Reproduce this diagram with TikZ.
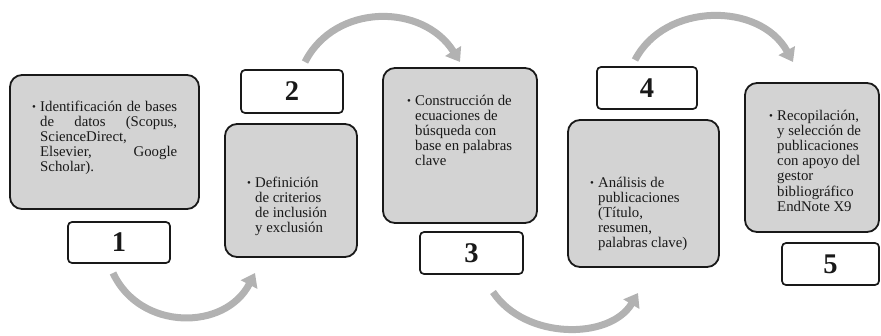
\documentclass[tikz,border=0pt]{standalone}
\usepackage{fontspec}
\setmainfont{Liberation Serif}
\usetikzlibrary{arrows.meta}
\definecolor{boxgray}{RGB}{211,211,211}
\definecolor{arrgray}{RGB}{178,178,178}
\definecolor{inkc}{RGB}{25,25,25}
\newcommand{\bul}{\makebox[8pt][l]{\raisebox{0.3pt}{\fontsize{11}{11}\selectfont\textbullet}}}
\newcommand{\ind}{\hspace*{8pt}}
\begin{document}
\begin{tikzpicture}[x=1pt,y=-1pt,
  graybox/.style={draw=inkc, line width=1.8pt, fill=boxgray, rounded corners=12pt, inner sep=0pt},
  numbox/.style={draw=inkc, line width=1.7pt, fill=white, rounded corners=4pt, inner sep=0pt,
    font=\fontsize{28.5}{28.5}\selectfont\bfseries, text=inkc},
  txt/.style={anchor=base west, inner sep=0pt, text=inkc, font=\fontsize{14.8}{15.2}\selectfont},
  arr/.style={draw=arrgray, line width=7pt, -{Triangle[width=18pt,length=13pt]}}]
\path[use as bounding box] (0,0) rectangle (881,335);

% gray boxes
\node (b1) [graybox, minimum width=189pt, minimum height=134pt] at (104.5,142) {};
\node (b2) [graybox, minimum width=132pt, minimum height=133pt] at (291,190.5) {};
\node (b3) [graybox, minimum width=154pt, minimum height=155pt] at (460,145.5) {};
\node (b4) [graybox, minimum width=151pt, minimum height=147pt] at (643.5,193.5) {};
\node (b5) [graybox, minimum width=134pt, minimum height=149pt] at (812,157.5) {};

% number boxes
\node (n1) [numbox, minimum width=102pt, minimum height=41pt] at (119,242.5) {1};
\node (n2) [numbox, minimum width=102pt, minimum height=43pt] at (292,91.5) {2};
\node (n3) [numbox, minimum width=103pt, minimum height=42pt] at (471.5,253) {3};
\node (n4) [numbox, minimum width=100pt, minimum height=42pt] at (647,88) {4};
\node (n5) [numbox, minimum width=97pt, minimum height=42pt] at (830.5,264) {5};

% texts
\node (t1) [txt] at (32,111) {\begin{tabular}[t]{@{}l@{}}
\bul\makebox[137pt][s]{Identificación de bases}\\
\ind\makebox[137pt][s]{de datos (Scopus,}\\
\ind ScienceDirect,\\
\ind\makebox[137pt][s]{Elsevier, Google}\\
\ind Scholar).
\end{tabular}};
\node (t2) [txt] at (247,187) {\begin{tabular}[t]{@{}l@{}}
\bul Definición\\
\ind de criterios\\
\ind de inclusión\\
\ind y exclusión
\end{tabular}};
\node (t3) [txt] at (407,105) {\begin{tabular}[t]{@{}l@{}}
\bul Construcción de\\
\ind ecuaciones de\\
\ind búsqueda con\\
\ind base en palabras\\
\ind clave
\end{tabular}};
\node (t4) [txt] at (590,187) {\begin{tabular}[t]{@{}l@{}}
\bul Análisis de\\
\ind publicaciones\\
\ind (Título,\\
\ind resumen,\\
\ind palabras clave)
\end{tabular}};
\node (t5) [txt] at (769,120) {\begin{tabular}[t]{@{}l@{}}
\bul Recopilación,\\
\ind y selección de\\
\ind publicaciones\\
\ind con apoyo del\\
\ind gestor\\
\ind bibliográfico\\
\ind EndNote X9
\end{tabular}};

% curved arrows
\coordinate (a1s) at (113,273);
\coordinate (a1e) at (255,273);
\coordinate (a2s) at (305,62);
\coordinate (a2e) at (460,62);
\coordinate (a3s) at (493,292);
\coordinate (a3e) at (638,293);
\coordinate (a4s) at (635,60);
\coordinate (a4e) at (793,62);
\draw[arr] (a1s) .. controls (140,331) and (225,331) .. (a1e);
\draw[arr] (a2s) .. controls (335,3) and (423,3) .. (a2e);
\draw[arr] (a3s) .. controls (525,340) and (610,340) .. (a3e);
\draw[arr] (a4s) .. controls (665,2) and (760,2) .. (a4e);
\end{tikzpicture}
\end{document}
